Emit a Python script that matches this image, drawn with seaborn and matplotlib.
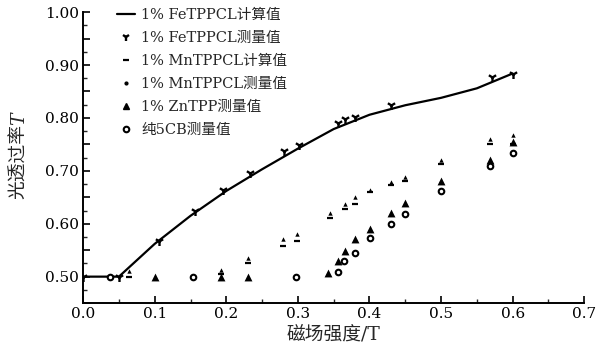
import numpy as np
import pandas as pd
import matplotlib
matplotlib.use("Agg")
import matplotlib.pyplot as plt
from matplotlib.lines import Line2D
from matplotlib.ticker import FixedLocator, FuncFormatter, MultipleLocator
import seaborn as sns

# ---- data ----
fe_calc_x = [0.0, 0.05, 0.10, 0.15, 0.20, 0.25, 0.30, 0.35, 0.40, 0.45, 0.50, 0.55, 0.60]
fe_calc_y = [0.500, 0.500, 0.562, 0.615, 0.662, 0.703, 0.742, 0.779, 0.806, 0.824, 0.838, 0.856, 0.884]

fe_meas_x = [0.0, 0.05, 0.106, 0.156, 0.196, 0.233, 0.281, 0.301, 0.356, 0.366, 0.380, 0.430, 0.571, 0.601]
fe_meas_y = [0.500, 0.500, 0.568, 0.624, 0.664, 0.695, 0.737, 0.748, 0.791, 0.798, 0.802, 0.824, 0.877, 0.884]

mn_x = [0.064, 0.193, 0.231, 0.279, 0.299, 0.345, 0.366, 0.380, 0.401, 0.430, 0.450, 0.500, 0.569, 0.600]
mn_calc_y = [0.500, 0.505, 0.525, 0.557, 0.567, 0.610, 0.628, 0.637, 0.660, 0.673, 0.681, 0.713, 0.750, 0.751]
mn_meas_y = [0.510, 0.512, 0.535, 0.571, 0.580, 0.620, 0.637, 0.651, 0.664, 0.678, 0.689, 0.720, 0.761, 0.767]

zn_x = [0.100, 0.193, 0.231, 0.342, 0.356, 0.366, 0.380, 0.401, 0.430, 0.450, 0.500, 0.569, 0.600]
zn_y = [0.500, 0.500, 0.500, 0.506, 0.529, 0.548, 0.571, 0.591, 0.620, 0.640, 0.680, 0.720, 0.754]

cb_x = [0.038, 0.154, 0.298, 0.356, 0.365, 0.380, 0.401, 0.430, 0.450, 0.500, 0.569, 0.600]
cb_y = [0.500, 0.500, 0.500, 0.508, 0.529, 0.545, 0.573, 0.600, 0.618, 0.661, 0.710, 0.733]

labels = ["1% FeTPPCL计算值", "1% FeTPPCL测量值", "1% MnTPPCL计算值",
          "1% MnTPPCL测量值", "1% ZnTPP测量值", "纯5CB测量值"]
xlabel = "磁场强度/T"
ylabel_cn = "光透过率"
ylabel_sym = "T"

# ---- style ----
sns.set_theme(style="ticks")
plt.rcParams["font.family"] = ["DejaVu Serif", "Noto Sans CJK SC"]
plt.rcParams["axes.unicode_minus"] = False

fig = plt.figure(figsize=(5.98, 3.57), dpi=100)
ax = fig.add_axes([0.139, 0.151, 0.838, 0.815])

df_line = pd.DataFrame({"x": fe_calc_x, "y": fe_calc_y})
sns.lineplot(data=df_line, x="x", y="y", ax=ax, color="black", linewidth=1.6)

sns.scatterplot(x=fe_meas_x, y=fe_meas_y, ax=ax, marker="1", color="black",
                s=42, linewidth=1.7, zorder=3)
sns.scatterplot(x=mn_x, y=mn_calc_y, ax=ax, marker="_", color="black",
                s=22, linewidth=1.6, zorder=3)
sns.scatterplot(x=mn_x, y=mn_meas_y, ax=ax, marker="^", color="black",
                s=10, linewidth=0, zorder=3)
sns.scatterplot(x=zn_x, y=zn_y, ax=ax, marker="^", color="black",
                s=32, linewidth=0, zorder=3)
sns.scatterplot(x=cb_x, y=cb_y, ax=ax, marker="o", facecolor="white",
                edgecolor="black", s=16, linewidth=1.5, zorder=3)

ax.set_xlim(0.0, 0.7)
ax.set_ylim(0.45, 1.0)

ax.xaxis.set_major_locator(FixedLocator(np.round(np.arange(0, 0.71, 0.1), 2)))
ax.xaxis.set_major_formatter(FuncFormatter(lambda v, p: f"{v:.1f}"))
ax.xaxis.set_minor_locator(MultipleLocator(0.05))

yt = np.round(np.arange(0.45, 1.001, 0.05), 3)
ax.yaxis.set_major_locator(FixedLocator(yt))
ax.yaxis.set_major_formatter(FuncFormatter(
    lambda v, p: f"{v:.2f}" if abs(round(v * 10) - v * 10) < 1e-6 and v >= 0.5 else ""))
ax.yaxis.set_minor_locator(MultipleLocator(0.025))

ax.tick_params(axis="both", which="major", direction="in", length=5, width=1.2,
               labelsize=11, colors="black", pad=3)
ax.tick_params(axis="both", which="minor", direction="in", length=3, width=1.0)

sns.despine(ax=ax, top=True, right=True)
for s in ["left", "bottom"]:
    ax.spines[s].set_linewidth(1.4)
    ax.spines[s].set_color("black")

ax.set_xlabel(xlabel, fontsize=13.5, labelpad=3)
ax.set_ylabel("")
yc = 0.485
ax.text(-0.127, yc, ylabel_cn, transform=ax.transAxes, rotation=90,
        ha="center", va="center", fontsize=13.5)
ax.text(-0.127, yc + 0.128, ylabel_sym, transform=ax.transAxes, rotation=90,
        ha="center", va="bottom", fontsize=13.5, fontstyle="italic")

handles = [
    Line2D([], [], color="black", lw=1.6),
    Line2D([], [], ls="none", marker="1", color="black", ms=6, mew=1.7),
    Line2D([], [], ls="none", marker="_", color="black", ms=5, mew=1.6),
    Line2D([], [], ls="none", marker=".", color="black", ms=4),
    Line2D([], [], ls="none", marker="^", color="black", ms=4),
    Line2D([], [], ls="none", marker="o", mfc="white", mec="black", ms=4, mew=1.5),
]
ax.legend(handles, labels, loc="upper left", bbox_to_anchor=(0.055, 1.035),
          frameon=False, fontsize=10.5, handlelength=1.3, handletextpad=0.4,
          labelspacing=0.62, borderaxespad=0)

fig.savefig("out.png", dpi=100)
